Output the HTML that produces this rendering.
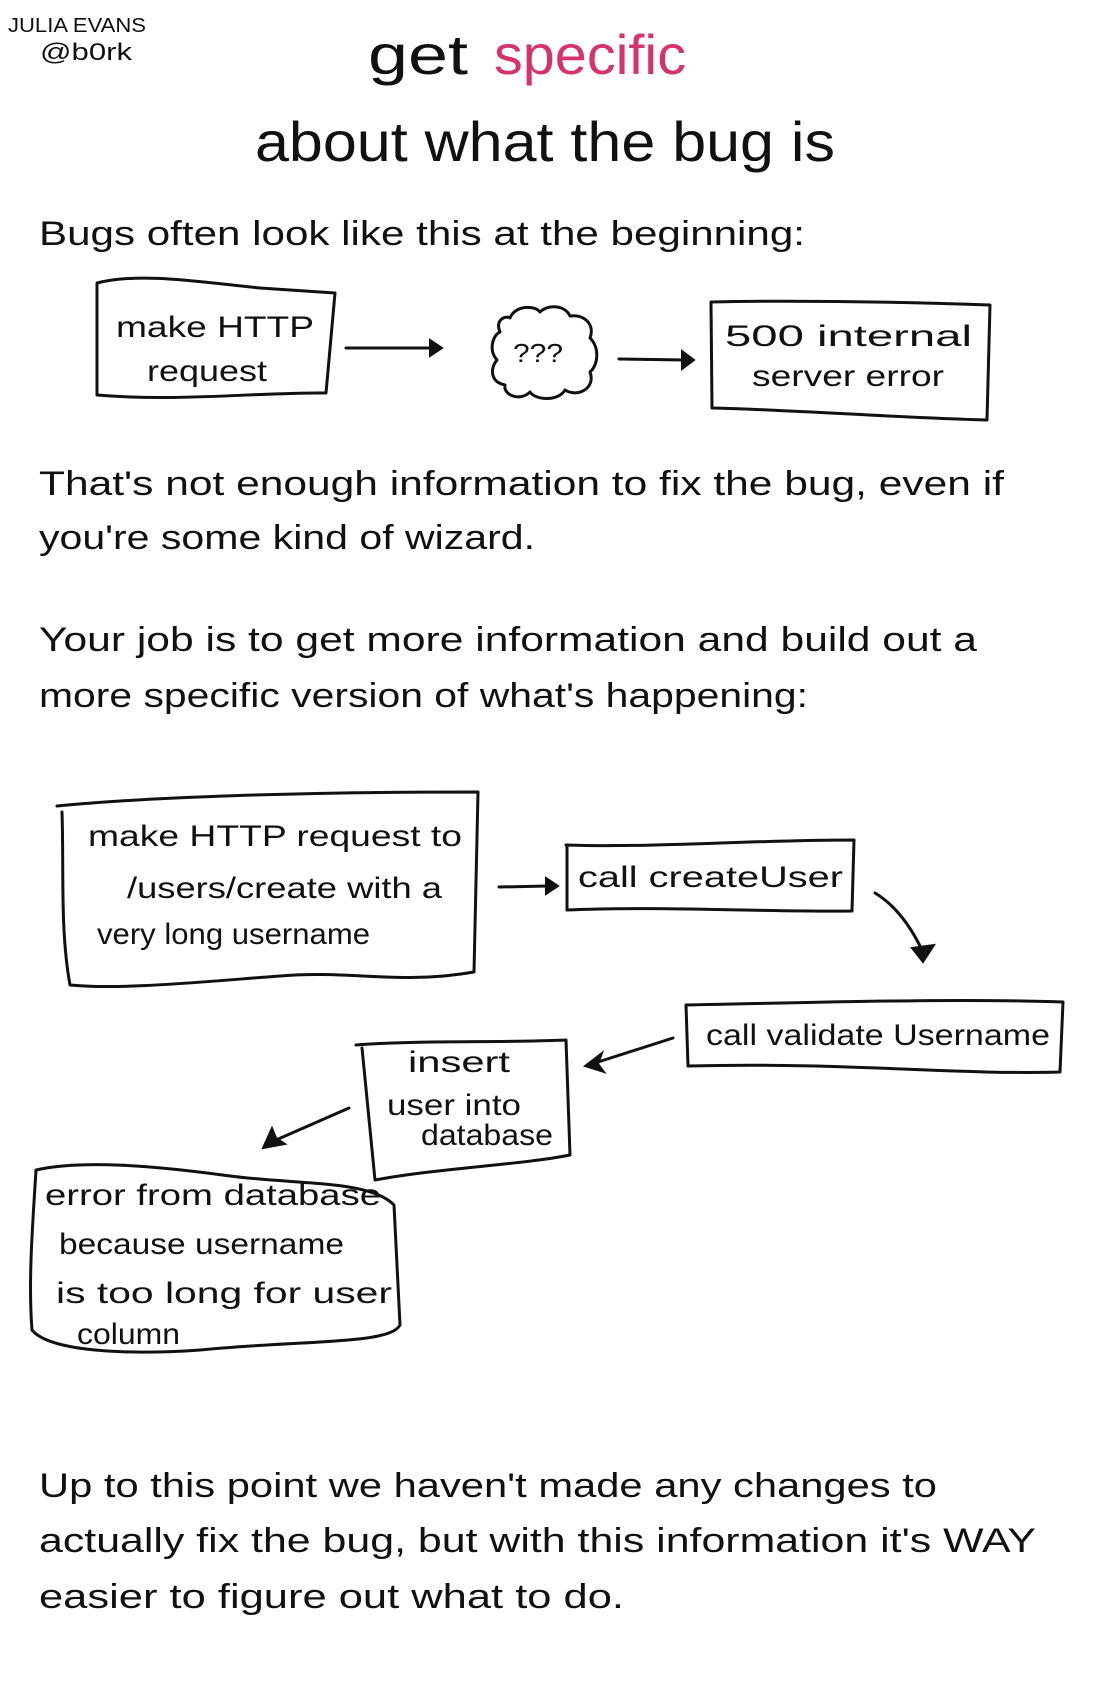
<!DOCTYPE html>
<html><head><meta charset="utf-8"><style>
html,body{margin:0;padding:0;background:#fff;}
svg{display:block;}
text{font-family:"Liberation Sans",sans-serif;fill:#111;}
.b{font-size:34px;}
.s{font-size:30px;}
path,line,polyline,rect{fill:none;stroke:#111;stroke-width:3;stroke-linecap:round;stroke-linejoin:round;}
.ah{fill:#111;stroke:#111;stroke-width:2;}
</style></head><body>
<svg width="1100" height="1700" viewBox="0 0 1100 1700" xmlns="http://www.w3.org/2000/svg">
<text x="8" y="32" font-size="20" textLength="138" lengthAdjust="spacingAndGlyphs">JULIA EVANS</text>
<text x="40" y="60" font-size="24" textLength="92" lengthAdjust="spacingAndGlyphs">@b0rk</text>
<text x="368" y="74" font-size="56" textLength="100" lengthAdjust="spacingAndGlyphs">get</text>
<text x="494" y="74" font-size="56" style="fill:#d6336c" textLength="192" lengthAdjust="spacingAndGlyphs">specific</text>
<text x="255" y="161" font-size="56" textLength="580" lengthAdjust="spacingAndGlyphs">about what the bug is</text>

<text class="b" x="39" y="245" textLength="766" lengthAdjust="spacingAndGlyphs">Bugs often look like this at the beginning:</text>

<path d="M97,283 C140,272 200,282 260,288 L335,293 L326,393 C260,392 180,402 97,395 Z"/>
<text class="s" x="116" y="337" textLength="198" lengthAdjust="spacingAndGlyphs">make HTTP</text>
<text class="s" x="147" y="381" textLength="120" lengthAdjust="spacingAndGlyphs">request</text>
<line x1="346" y1="348" x2="432" y2="348"/>
<polygon class="ah" points="430,340 442,348 430,356"/>

<path d="M510,318 C515,305 535,305 540,312 C548,304 565,305 570,316 C585,314 595,325 590,338 C600,348 598,365 590,372 C596,388 578,398 565,390 C558,402 535,400 530,392 C520,402 503,395 505,385 C490,382 490,368 497,360 C488,350 493,335 500,332 C495,320 505,315 510,318 Z"/>
<text x="513" y="362" font-size="26" textLength="50" lengthAdjust="spacingAndGlyphs">???</text>
<line x1="619" y1="359" x2="685" y2="360"/>
<polygon class="ah" points="682,351 694,360 682,369"/>

<path d="M711,302 C800,300 900,302 990,305 L987,420 C900,418 800,410 712,408 Z"/>
<text class="s" x="725" y="346" textLength="247" lengthAdjust="spacingAndGlyphs">500 internal</text>
<text class="s" x="752" y="386" textLength="192" lengthAdjust="spacingAndGlyphs">server error</text>

<text class="b" x="39" y="495" textLength="965" lengthAdjust="spacingAndGlyphs">That's not enough information to fix the bug, even if</text>
<text class="b" x="39" y="549" textLength="496" lengthAdjust="spacingAndGlyphs">you're some kind of wizard.</text>
<text class="b" x="39" y="651" textLength="938" lengthAdjust="spacingAndGlyphs">Your job is to get more information and build out a</text>
<text class="b" x="39" y="707" textLength="769" lengthAdjust="spacingAndGlyphs">more specific version of what's happening:</text>

<path d="M57,806 C150,797 300,792 478,792 L474,972 C400,985 350,970 280,976 C200,982 120,990 70,985 C60,930 64,870 62,812"/>
<text class="s" x="88" y="846" textLength="374" lengthAdjust="spacingAndGlyphs">make HTTP request to</text>
<text class="s" x="127" y="898" textLength="315" lengthAdjust="spacingAndGlyphs">/users/create  with a</text>
<text class="s" x="97" y="944" textLength="273" lengthAdjust="spacingAndGlyphs">very long username</text>
<line x1="499" y1="887" x2="548" y2="886"/>
<polygon class="ah" points="546,878 558,886 546,894"/>

<path d="M566,845 C650,848 750,840 854,840 L852,911 C760,912 660,906 567,910 L567,845"/>
<text class="s" x="578" y="887" textLength="265" lengthAdjust="spacingAndGlyphs">call  createUser</text>
<path d="M875,893 C895,905 910,925 922,950"/>
<polygon class="ah" points="912,948 934,945 923,962"/>

<path d="M686,1005 C800,1003 950,998 1063,1002 L1060,1072 C950,1075 850,1062 688,1066 Z"/>
<text class="s" x="706" y="1045" textLength="344" lengthAdjust="spacingAndGlyphs">call validate Username</text>
<line x1="673" y1="1038" x2="598" y2="1062"/>
<polygon class="ah" points="585,1066 602,1053 598,1064 604,1072"/>

<path d="M356,1045 C420,1040 500,1043 566,1040 L570,1155 C520,1165 440,1168 375,1180 L362,1048"/>
<text class="s" x="408" y="1072" textLength="102" lengthAdjust="spacingAndGlyphs">insert</text>
<text class="s" x="387" y="1115" textLength="134" lengthAdjust="spacingAndGlyphs">user into</text>
<text class="s" x="421" y="1145" textLength="132" lengthAdjust="spacingAndGlyphs">database</text>
<line x1="349" y1="1108" x2="276" y2="1140"/>
<polygon class="ah" points="263,1148 272,1128 276,1138 285,1144"/>

<path d="M36,1170 C80,1160 150,1165 230,1176 C300,1185 370,1180 394,1205 L400,1325 C390,1345 300,1340 200,1350 C130,1355 50,1352 32,1330 C28,1280 33,1220 36,1170 Z"/>
<text class="s" x="45" y="1205" textLength="336" lengthAdjust="spacingAndGlyphs">error from database</text>
<text class="s" x="59" y="1254" textLength="285" lengthAdjust="spacingAndGlyphs">because  username</text>
<text class="s" x="56" y="1303" textLength="336" lengthAdjust="spacingAndGlyphs">is too  long  for user</text>
<text class="s" x="77" y="1344" textLength="103" lengthAdjust="spacingAndGlyphs">column</text>

<text class="b" x="39" y="1497" textLength="898" lengthAdjust="spacingAndGlyphs">Up to this point we haven't made any changes to</text>
<text class="b" x="39" y="1552" textLength="997" lengthAdjust="spacingAndGlyphs">actually fix the bug, but with this information it's WAY</text>
<text class="b" x="39" y="1608" textLength="585" lengthAdjust="spacingAndGlyphs">easier to figure out what to do.</text>
</svg>
</body></html>
